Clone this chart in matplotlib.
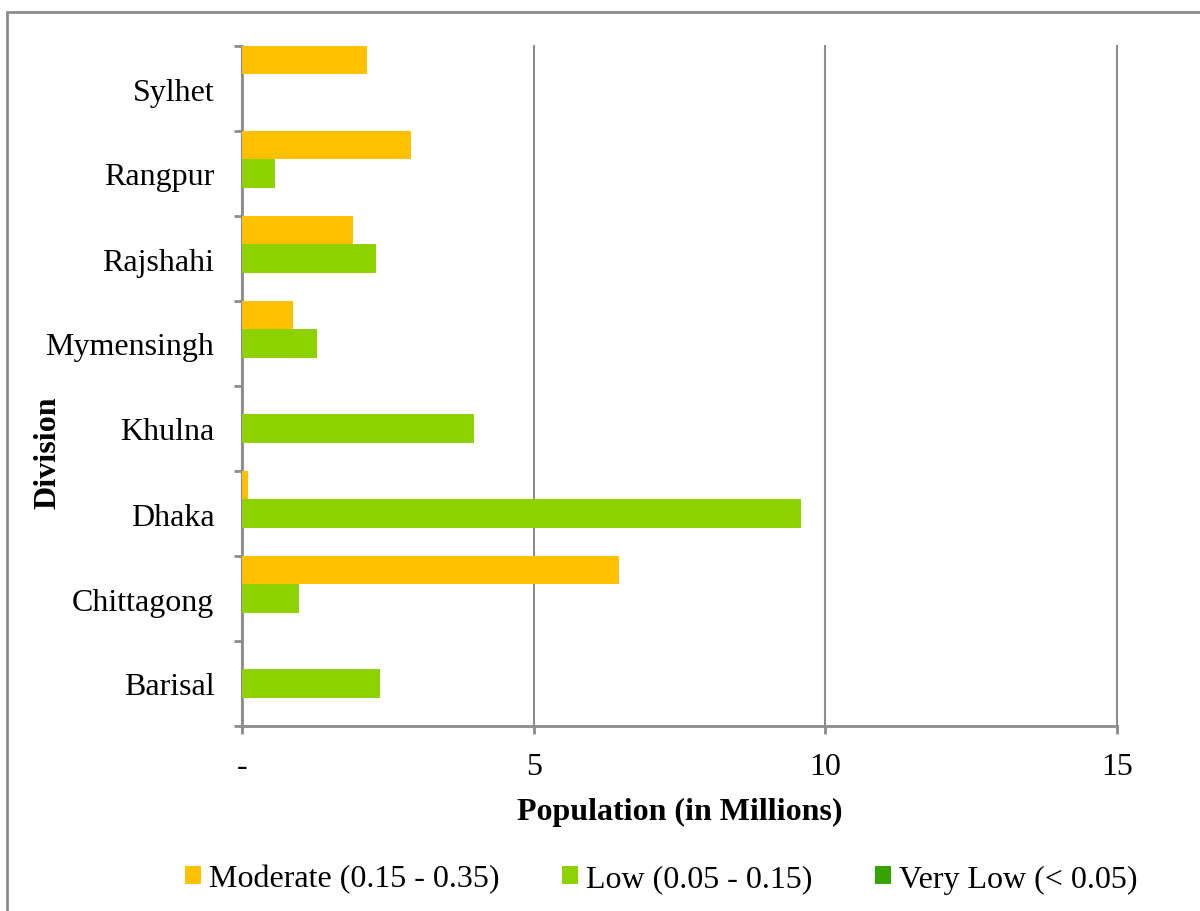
import numpy as np
import matplotlib.pyplot as plt
from matplotlib.patches import Rectangle

plt.rcParams['font.family'] = ['Liberation Serif', 'DejaVu Serif']

divisions = ["Barisal", "Chittagong", "Dhaka", "Khulna", "Mymensingh", "Rajshahi", "Rangpur", "Sylhet"]
moderate = [0.0, 6.46, 0.10, 0.0, 0.87, 1.90, 2.89, 2.14]
low = [2.36, 0.98, 9.59, 3.97, 1.28, 2.29, 0.57, 0.0]
very_low = [0, 0, 0, 0, 0, 0, 0, 0]
series_names = ["Moderate (0.15 - 0.35)", "Low (0.05 - 0.15)", "Very Low (< 0.05)"]
series_colors = ["#FFC000", "#8DD100", "#36A300"]
xticks = [0, 5, 10, 15]
xticklabels = ["-", "5", "10", "15"]

fs = 23

fig = plt.figure(figsize=(12, 9.12), dpi=100)
ax = fig.add_axes([242 / 1200, 1 - 727 / 912, (1117 - 242) / 1200, (727 - 47) / 912])

# border around the chart area, like the Excel export
fig.patches.append(Rectangle((7 / 1200, -0.1), 1.2, 1 - 13 / 912 + 0.1, transform=fig.transFigure,
                             fill=False, edgecolor="#8c8c8c", linewidth=2))

y = np.arange(len(divisions))
h = 1 / 3
for i, (vals, name, col) in enumerate(zip([moderate, low, very_low], series_names, series_colors)):
    ax.barh(y + 1 / 3 - i * h, vals, height=h, color=col, label=name, zorder=3)

ax.set_xlim(0, 15)
ax.set_ylim(-0.5, len(divisions) - 0.5)
ax.set_xticks(xticks)
ax.set_xticklabels(xticklabels, fontsize=fs)
ax.set_yticks(y)
ax.set_yticklabels(divisions, fontsize=fs)
ax.set_yticks(np.arange(len(divisions) + 1) - 0.5, minor=True)
ax.tick_params(axis="y", which="major", length=0, pad=20)
ax.tick_params(axis="y", which="minor", length=6, width=2, color="#8c8c8c")
ax.tick_params(axis="x", length=6, width=2, color="#8c8c8c", pad=13)

ax.grid(axis="x", color="#8c8c8c", linewidth=1.5, zorder=0)
for line in ax.get_xgridlines():
    line.set_clip_on(False)
for s in ["top", "right"]:
    ax.spines[s].set_visible(False)
for s in ["left", "bottom"]:
    ax.spines[s].set_color("#8c8c8c")
    ax.spines[s].set_linewidth(2)

ax.set_xlabel("Population (in Millions)", fontsize=fs, fontweight="bold", labelpad=11)
ax.set_ylabel("Division", fontsize=fs, fontweight="bold")
ax.yaxis.set_label_coords(-0.205, 0.403)

fig.legend(loc="center", bbox_to_anchor=(0.551, 1 - 880 / 912), ncol=3, frameon=False,
           fontsize=fs, handlelength=0.5, handleheight=0.5, handletextpad=0.25, columnspacing=1.95)

fig.savefig("out.png", dpi=100)
